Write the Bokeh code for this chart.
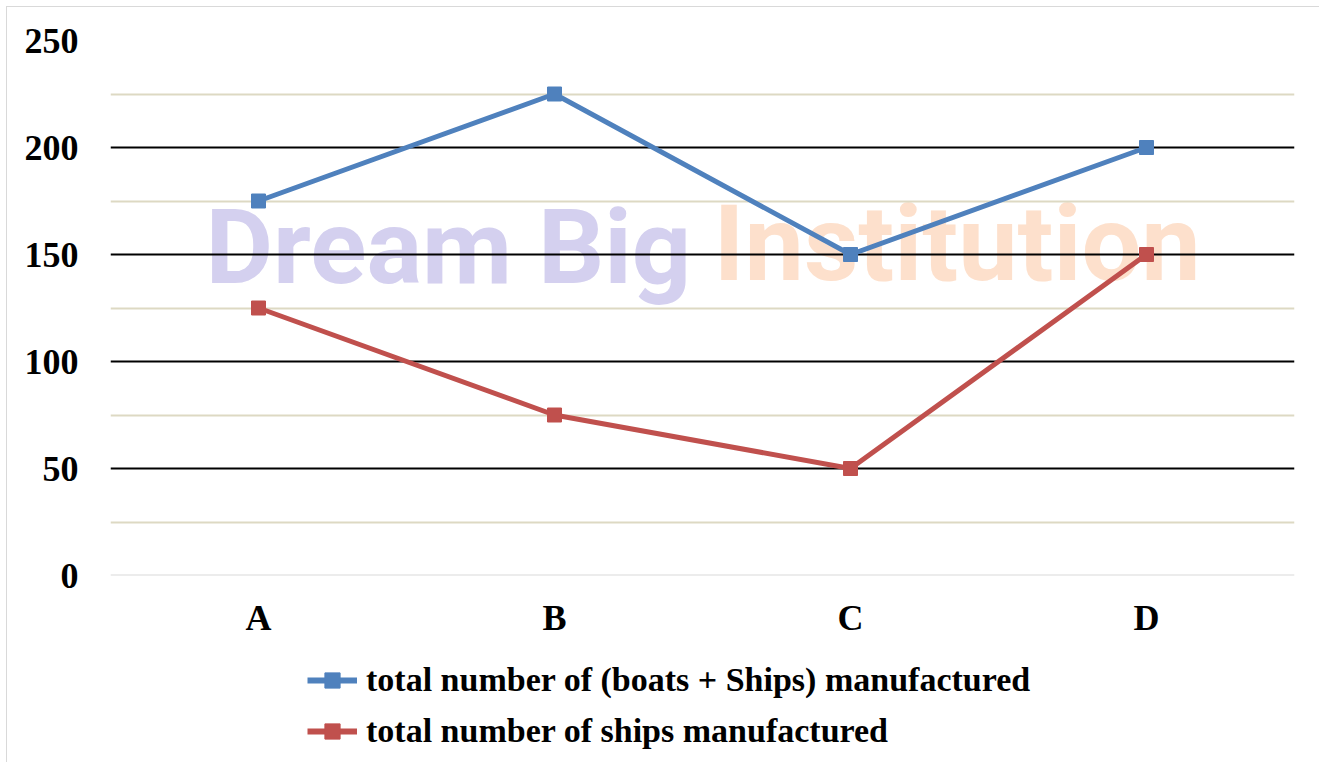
from bokeh.plotting import figure
from bokeh.layouts import column
from bokeh.models import (Range1d, FactorRange, FixedTicker, Legend, LegendItem,
                          Span, Label, ColumnDataSource)
from bokeh.embed import file_html
from bokeh.resources import INLINE

categories = ["A", "B", "C", "D"]
total_boats_ships = [175, 225, 150, 200]
total_ships = [125, 75, 50, 150]
y_ticks = [0, 50, 100, 150, 200, 250]
y_minor = [25, 75, 125, 175, 225]
series_names = ["total number of (boats + Ships) manufactured",
                "total number of ships manufactured"]
series_colors = ["#4f81bd", "#c0504d"]

p = figure(width=1312, height=638, x_range=FactorRange(factors=categories),
           y_range=Range1d(0, 250), output_backend="svg", toolbar_location=None,
           min_border_left=103, min_border_right=25, min_border_top=33,
           min_border_bottom=70)
p.outline_line_color = None
p.background_fill_color = "white"

# axes
p.yaxis.ticker = FixedTicker(ticks=y_ticks, minor_ticks=y_minor)
for ax in (p.xaxis[0], p.yaxis[0]):
    ax.axis_line_color = None
    ax.major_tick_line_color = None
    ax.minor_tick_line_color = None
    ax.major_label_text_font = "Liberation Serif"
    ax.major_label_text_font_style = "bold"
    ax.major_label_text_font_size = "36px"
    ax.major_label_text_color = "black"
p.yaxis.major_label_standoff = 26
p.xaxis.major_label_standoff = 16

# grids
p.xgrid.grid_line_color = None
p.ygrid.grid_line_color = "black"
p.ygrid.grid_line_width = 2
p.ygrid.minor_grid_line_color = "#ddd9c3"
p.ygrid.minor_grid_line_width = 2
p.add_layout(Span(location=0, dimension="width", line_color="#d9d9d9", line_width=2))

# watermark
wm1 = Label(x=95, y=328, x_units="screen", y_units="screen", text="Dream Big",
            text_font="Roboto", text_font_style="bold", text_baseline="alphabetic",
            text_font_size="104px", text_color="#d4d0ef", level="image")
wm2 = Label(x=603, y=332, x_units="screen", y_units="screen", text="Institution",
            text_font="Roboto", text_font_style="bold", text_baseline="alphabetic",
            text_font_size="106px", text_color="#fde0cc", level="image")
p.add_layout(wm1)
p.add_layout(wm2)

for vals, col in zip([total_boats_ships, total_ships], series_colors):
    src = ColumnDataSource(dict(x=categories, y=vals))
    p.line("x", "y", source=src, line_color=col, line_width=5)
    p.scatter("x", "y", source=src, marker="square", size=14,
              fill_color=col, line_color=col)

# legend panel (separate strip below the chart)
lg = figure(width=1312, height=117, x_range=Range1d(0, 1312), y_range=Range1d(0, 117),
            output_backend="svg", toolbar_location=None, min_border=0)
lg.axis.visible = False
lg.grid.visible = False
lg.outline_line_color = None
items = []
for name, col in zip(series_names, series_colors):
    dummy = ColumnDataSource(dict(x=[-100, -90], y=[-100, -100]))
    r1 = lg.line("x", "y", source=dummy, line_color=col, line_width=6)
    r2 = lg.scatter("x", "y", source=dummy, marker="square", size=15,
                    fill_color=col, line_color=col)
    items.append(LegendItem(label=name, renderers=[r1, r2]))

legend = Legend(items=items, location=(197, 12), orientation="vertical",
                padding=0, margin=0, border_line_color=None,
                background_fill_alpha=0, label_text_font="Liberation Serif",
                label_text_font_style="bold", label_text_font_size="34px",
                label_text_color="black",
                label_standoff=9, glyph_width=50, glyph_height=38,
                label_height=30, spacing=13)
lg.add_layout(legend, "center")

layout = column(p, lg, spacing=0,
                styles={"margin-left": "6px", "margin-top": "6px",
                        "border-left": "1px solid #d9d9d9",
                        "border-top": "1px solid #d9d9d9"})

open("out.html", "w").write(file_html(layout, INLINE))
